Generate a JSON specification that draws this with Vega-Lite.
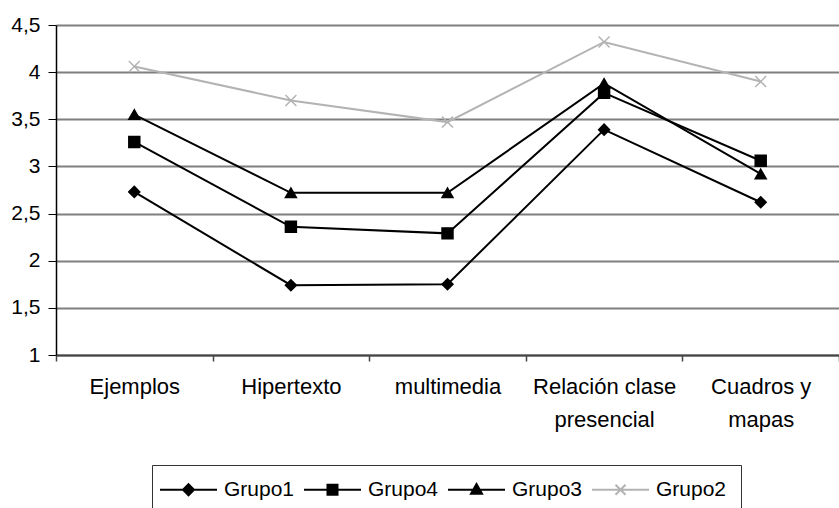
{
  "$schema": "https://vega.github.io/schema/vega-lite/v6.json",
  "width": 783,
  "height": 330,
  "autosize": "none",
  "padding": {"left": 56, "top": 25, "right": 0, "bottom": 153},
  "background": "white",
  "config": {
    "locale": {"number": {"decimal": ",", "thousands": ".", "grouping": [3], "currency": ["", ""]}},
    "view": {"stroke": null},
    "font": "Liberation Sans",
    "legend": {
      "title": null,
      "orient": "none",
      "legendX": 96,
      "legendY": 440,
      "direction": "horizontal",
      "strokeColor": "#333",
      "fillColor": "white",
      "padding": 14,
      "symbolSize": 100,
      "symbolOffset": 12,
      "symbolStrokeWidth": 2,
      "symbolOpacity": 1,
      "labelOffset": 25,
      "columnPadding": 5,
      "labelFontSize": 21,
      "labelColor": "#000"
    }
  },
  "data": {
    "values": [
      {"categoria": "Ejemplos", "grupo": "Grupo1", "valor": 2.73},
      {"categoria": "Ejemplos", "grupo": "Grupo4", "valor": 3.26},
      {"categoria": "Ejemplos", "grupo": "Grupo3", "valor": 3.55},
      {"categoria": "Ejemplos", "grupo": "Grupo2", "valor": 4.06},
      {"categoria": "Hipertexto", "grupo": "Grupo1", "valor": 1.74},
      {"categoria": "Hipertexto", "grupo": "Grupo4", "valor": 2.36},
      {"categoria": "Hipertexto", "grupo": "Grupo3", "valor": 2.72},
      {"categoria": "Hipertexto", "grupo": "Grupo2", "valor": 3.70},
      {"categoria": "multimedia", "grupo": "Grupo1", "valor": 1.75},
      {"categoria": "multimedia", "grupo": "Grupo4", "valor": 2.29},
      {"categoria": "multimedia", "grupo": "Grupo3", "valor": 2.72},
      {"categoria": "multimedia", "grupo": "Grupo2", "valor": 3.47},
      {"categoria": "Relación clase presencial", "grupo": "Grupo1", "valor": 3.39},
      {"categoria": "Relación clase presencial", "grupo": "Grupo4", "valor": 3.78},
      {"categoria": "Relación clase presencial", "grupo": "Grupo3", "valor": 3.88},
      {"categoria": "Relación clase presencial", "grupo": "Grupo2", "valor": 4.32},
      {"categoria": "Cuadros y mapas", "grupo": "Grupo1", "valor": 2.62},
      {"categoria": "Cuadros y mapas", "grupo": "Grupo4", "valor": 3.06},
      {"categoria": "Cuadros y mapas", "grupo": "Grupo3", "valor": 2.92},
      {"categoria": "Cuadros y mapas", "grupo": "Grupo2", "valor": 3.90}
    ]
  },
  "encoding": {
    "x": {
      "field": "categoria",
      "type": "nominal",
      "sort": ["Ejemplos", "Hipertexto", "multimedia", "Relación clase presencial", "Cuadros y mapas"],
      "scale": {"type": "band", "paddingInner": 0, "paddingOuter": 0},
      "axis": {
        "title": null,
        "labelAngle": 0,
        "labelFontSize": 22,
        "labelColor": "#000",
        "labelPadding": 15,
        "labelLineHeight": 33,
        "labelBaseline": "top",
        "tickBand": "extent",
        "tickSize": 6,
        "tickColor": "#444",
        "tickWidth": 1.5,
        "domainColor": "#444",
        "domainWidth": 2,
        "grid": false,
        "labelExpr": "datum.label == 'Relación clase presencial' ? ['Relación clase', 'presencial'] : datum.label == 'Cuadros y mapas' ? ['Cuadros y', 'mapas'] : datum.label"
      }
    },
    "y": {
      "field": "valor",
      "type": "quantitative",
      "scale": {"domain": [1, 4.5], "nice": false, "zero": false},
      "axis": {
        "title": null,
        "values": [1, 1.5, 2, 2.5, 3, 3.5, 4, 4.5],
        "format": ".1~f",
        "labelFontSize": 21,
        "labelColor": "#000",
        "labelPadding": 8,
        "tickSize": 8,
        "tickColor": "#000",
        "domainColor": "#000",
        "domainWidth": 1.5,
        "grid": true,
        "gridColor": "#7f7f7f",
        "gridWidth": 2
      }
    }
  },
  "layer": [
    {
      "mark": {"type": "line", "strokeWidth": 2},
      "encoding": {
        "color": {
          "field": "grupo",
          "type": "nominal",
          "scale": {"domain": ["Grupo1", "Grupo4", "Grupo3", "Grupo2"], "range": ["#000000", "#000000", "#000000", "#b3b3b3"]},
          "legend": null
        }
      }
    },
    {
      "mark": {"type": "point", "size": 120, "strokeWidth": 1.5, "opacity": 1},
      "encoding": {
        "shape": {
          "field": "grupo",
          "type": "nominal",
          "scale": {"domain": ["Grupo1", "Grupo4", "Grupo3", "Grupo2"], "range": ["diamond", "square", "triangle-up", "M-1,-1L1,1M-1,1L1,-1"]},
          "legend": null
        },
        "fill": {
          "field": "grupo",
          "type": "nominal",
          "scale": {"domain": ["Grupo1", "Grupo4", "Grupo3", "Grupo2"], "range": ["#000000", "#000000", "#000000", "#b3b3b3"]},
          "legend": null
        },
        "stroke": {
          "field": "grupo",
          "type": "nominal",
          "scale": {"domain": ["Grupo1", "Grupo4", "Grupo3", "Grupo2"], "range": ["#000000", "#000000", "#000000", "#b3b3b3"]},
          "legend": null
        }
      }
    },
    {
      "mark": {"type": "point", "opacity": 0, "size": 10},
      "encoding": {
        "shape": {
          "field": "grupo",
          "type": "nominal",
          "scale": {
            "domain": ["Grupo1", "Grupo4", "Grupo3", "Grupo2"],
            "range": [
              "M-5.7,0H5.7M0,-1.1L1.1,0L0,1.1L-1.1,0Z",
              "M-5.7,0H5.7M-1,-1H1V1H-1Z",
              "M-5.7,0H5.7M0,-1.15L1.1,0.8H-1.1Z",
              "M-5.7,0H5.7M-1,-1L1,1M-1,1L1,-1"
            ]
          },
          "legend": {"title": null}
        },
        "fill": {
          "field": "grupo",
          "type": "nominal",
          "scale": {"domain": ["Grupo1", "Grupo4", "Grupo3", "Grupo2"], "range": ["#000000", "#000000", "#000000", "#b3b3b3"]},
          "legend": {"title": null}
        },
        "stroke": {
          "field": "grupo",
          "type": "nominal",
          "scale": {"domain": ["Grupo1", "Grupo4", "Grupo3", "Grupo2"], "range": ["#000000", "#000000", "#000000", "#b3b3b3"]},
          "legend": {"title": null}
        }
      }
    }
  ],
  "resolve": {
    "scale": {"shape": "independent", "fill": "independent", "stroke": "independent"},
    "legend": {"shape": "independent", "fill": "independent", "stroke": "independent"}
  }
}
